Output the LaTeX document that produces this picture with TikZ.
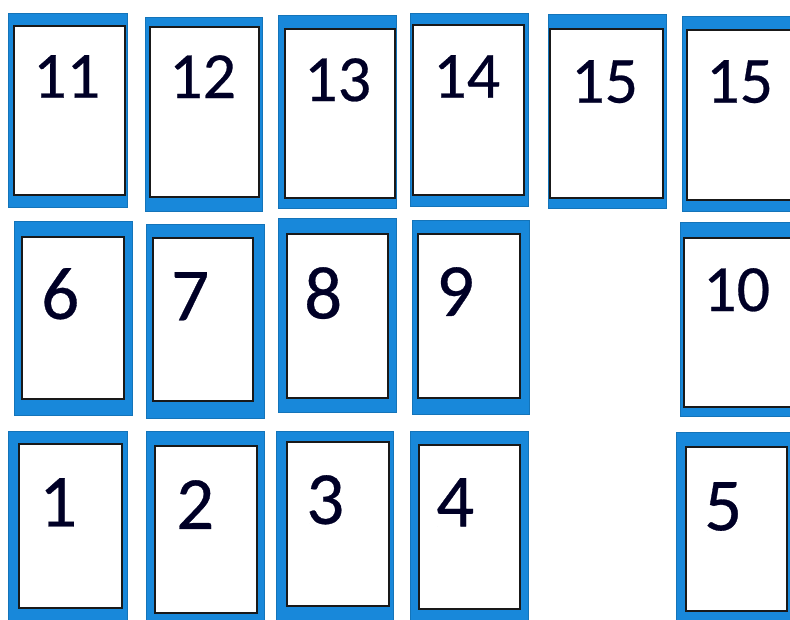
\documentclass[tikz,border=0pt]{standalone}
\usepackage{fontspec}
\setmainfont{Carlito}[FakeBold=0.4]
\usepackage{tikz}
\usetikzlibrary{positioning}
\definecolor{cardblue}{RGB}{24,136,218}

\begin{document}
\begin{tikzpicture}[
    x=1pt, y=-1pt,
    back/.style={fill=cardblue, draw=cardblue!85!black, line width=0.5pt, inner sep=0pt, anchor=north west},
    face/.style={fill=white, draw=black!90, line width=1.5pt, inner sep=0pt, anchor=north west},
    num/.style={inner sep=0pt, text=black!85!blue, font=\fontsize{66}{66}\selectfont},
    numbig/.style={num, font=\fontsize{75}{75}\selectfont}
]
\useasboundingbox (0,0) rectangle (790,619);
\clip (0,0) rectangle (790,619);
% top row
\node[back, minimum width=119pt, minimum height=194pt] (b11) at (8,13) {};
\node[face, minimum width=111pt, minimum height=169pt] (f11) at (13,25) {};
\node[num, below right=30pt and 20pt of f11.north west] (n11) {11};
\node[back, minimum width=117pt, minimum height=194pt] (b12) at (145,17) {};
\node[face, minimum width=109pt, minimum height=170pt] (f12) at (149,26) {};
\node[num, below right=29pt and 20pt of f12.north west] (n12) {12};
\node[back, minimum width=118pt, minimum height=193pt] (b13) at (278,15) {};
\node[face, minimum width=110pt, minimum height=169pt] (f13) at (284,28) {};
\node[num, below right=30pt and 20pt of f13.north west] (n13) {13};
\node[back, minimum width=118pt, minimum height=193pt] (b14) at (410,13) {};
\node[face, minimum width=111pt, minimum height=170pt] (f14) at (412,24) {};
\node[num, below right=31pt and 21pt of f14.north west] (n14) {14};
\node[back, minimum width=118pt, minimum height=194pt] (b15a) at (548,14) {};
\node[face, minimum width=113pt, minimum height=169pt] (f15a) at (549,28) {};
\node[num, below right=32pt and 22pt of f15a.north west] (n15a) {15};
\node[back, minimum width=120pt, minimum height=195pt] (b15b) at (682,16) {};
\node[face, minimum width=110pt, minimum height=170pt] (f15b) at (686,29) {};
\node[num, below right=31pt and 20pt of f15b.north west] (n15b) {15};
% middle row
\node[back, minimum width=118pt, minimum height=194pt] (b6) at (14,221) {};
\node[face, minimum width=102pt, minimum height=162pt] (f6) at (21,236) {};
\node[numbig, below right=32pt and 20pt of f6.north west] (n6) {6};
\node[back, minimum width=118pt, minimum height=194pt] (b7) at (146,224) {};
\node[face, minimum width=100pt, minimum height=163pt] (f7) at (152,237) {};
\node[numbig, below right=35pt and 19pt of f7.north west] (n7) {7};
\node[back, minimum width=118pt, minimum height=194pt] (b8) at (278,218) {};
\node[face, minimum width=101pt, minimum height=164pt] (f8) at (286,233) {};
\node[numbig, below right=34pt and 18pt of f8.north west] (n8) {8};
\node[back, minimum width=117pt, minimum height=194pt] (b9) at (412,220) {};
\node[face, minimum width=102pt, minimum height=164pt] (f9) at (417,233) {};
\node[numbig, below right=34pt and 19pt of f9.north west] (n9) {9};
\node[back, minimum width=120pt, minimum height=194pt] (b10) at (680,222) {};
\node[face, minimum width=110pt, minimum height=169pt] (f10) at (683,237) {};
\node[num, below right=31pt and 20pt of f10.north west] (n10) {10};
% bottom row
\node[back, minimum width=119pt, minimum height=195pt] (b1) at (8,431) {};
\node[face, minimum width=103pt, minimum height=164pt] (f1) at (18,443) {};
\node[numbig, below right=35pt and 21pt of f1.north west] (n1) {1};
\node[back, minimum width=118pt, minimum height=195pt] (b2) at (146,431) {};
\node[face, minimum width=102pt, minimum height=167pt] (f2) at (154,445) {};
\node[numbig, below right=35pt and 22pt of f2.north west] (n2) {2};
\node[back, minimum width=117pt, minimum height=195pt] (b3) at (276,431) {};
\node[face, minimum width=102pt, minimum height=164pt] (f3) at (286,441) {};
\node[numbig, below right=34pt and 20pt of f3.north west] (n3) {3};
\node[back, minimum width=118pt, minimum height=195pt] (b4) at (410,431) {};
\node[face, minimum width=101pt, minimum height=164pt] (f4) at (418,444) {};
\node[numbig, below right=34pt and 18pt of f4.north west] (n4) {4};
\node[back, minimum width=118pt, minimum height=195pt] (b5) at (676,432) {};
\node[face, minimum width=101pt, minimum height=164pt] (f5) at (685,446) {};
\node[numbig, below right=36pt and 19pt of f5.north west] (n5) {5};
\end{tikzpicture}
\end{document}
